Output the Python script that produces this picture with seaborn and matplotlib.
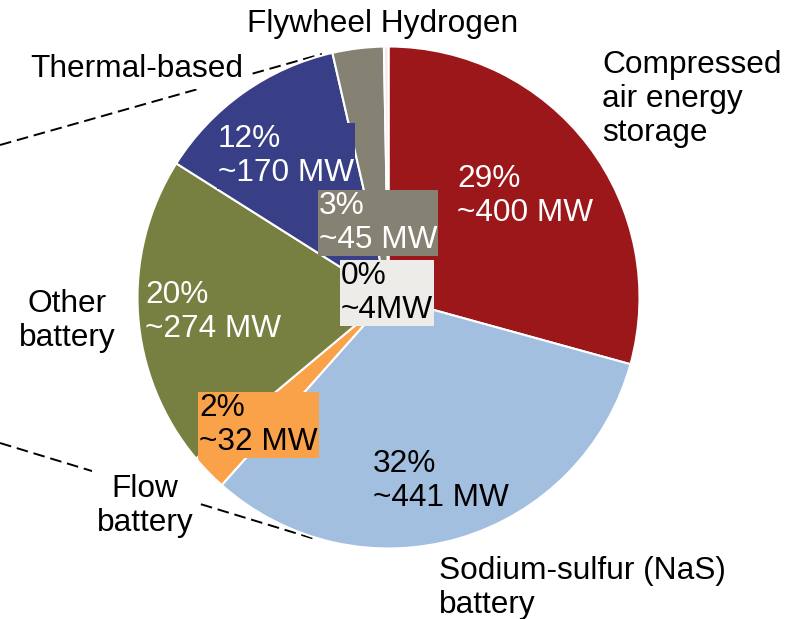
import matplotlib
matplotlib.use("Agg")
import matplotlib.pyplot as plt
import seaborn as sns

# ---------------------------
# data
# ---------------------------
categories = ["Compressed air energy storage", "Sodium-sulfur (NaS) battery",
              "Flow battery", "Other battery", "Thermal-based",
              "Flywheel", "Hydrogen"]
capacity_mw = [400, 441, 32, 274, 170, 45, 4]
pct_labels = ["29%\n~400 MW", "32%\n~441 MW", "2%\n~32 MW", "20%\n~274 MW",
              "12%\n~170 MW", "3%\n~45 MW", "0%\n~4MW"]
colors = ["#9B1719", "#A3BFDF", "#FAA24A", "#777F41", "#383F87",
          "#858273", "#EEECE9"]

# ---------------------------
# figure setup (1 data unit = 1 pixel)
# ---------------------------
sns.set_theme(style="white")
plt.rcParams["font.family"] = ["Liberation Sans", "DejaVu Sans"]

W, H = 798, 619
fig = plt.figure(figsize=(W / 100, H / 100), dpi=100)
ax = fig.add_axes([0, 0, 1, 1])


def py(y):
    # pixel row from top -> data y
    return H - y


FS = 22.8
LS = 1.17

# zoom-out dashed lines (from the previous chart)
ax.plot([0, 322], [py(145), py(54)], color="black", lw=1.4,
        dashes=(6, 3), zorder=0)
ax.plot([0, 315], [py(443), py(539)], color="black", lw=1.4,
        dashes=(6, 3), zorder=0)

# pie
ax.pie(capacity_mw, colors=colors, startangle=90, counterclock=False,
       center=(388.5, py(297.5)), radius=251, frame=True,
       wedgeprops=dict(edgecolor="white", linewidth=1.5))
ax.set_xlim(0, W)
ax.set_ylim(0, H)
ax.set_aspect("auto")
ax.axis("off")

# value labels inside the slices (y = baseline of the last line)
inner = [
    (457, 221, "white", None),
    (373, 506, "black", None),
    (199, 450, "black", colors[2]),
    (145, 337, "white", None),
    (218, 181, "white", colors[4]),
    (319, 248, "white", colors[5]),
    (341, 318, "black", colors[6]),
]
for lab, (x, y, tc, bc) in zip(pct_labels, inner):
    kw = {}
    if bc is not None:
        kw["bbox"] = dict(boxstyle="square,pad=0.03", fc=bc, ec="none")
    ax.text(x, py(y), lab, color=tc, fontsize=FS, ha="left", va="baseline",
            linespacing=LS, zorder=5, **kw)

# category labels outside
white_box = dict(boxstyle="square,pad=0.15", fc="white", ec="none")
ax.text(247, py(32), "Flywheel Hydrogen", fontsize=FS, ha="left",
        va="baseline", color="black")
ax.text(30, py(77), "Thermal-based", fontsize=FS, ha="left", va="baseline",
        color="black", bbox=white_box, zorder=3)
ax.text(602, py(141), "Compressed\nair energy\nstorage", fontsize=FS,
        ha="left", va="baseline", color="black", linespacing=LS)
ax.text(67, py(346), "Other\nbattery", fontsize=FS, ha="center",
        va="baseline", color="black", linespacing=LS, multialignment="center")
ax.text(145, py(531), "Flow\nbattery", fontsize=FS, ha="center",
        va="baseline", color="black", linespacing=LS, multialignment="center",
        bbox=white_box, zorder=3)
ax.text(439, py(613), "Sodium-sulfur (NaS)\nbattery", fontsize=FS,
        ha="left", va="baseline", color="black", linespacing=LS)

fig.savefig("out.png", dpi=100)
